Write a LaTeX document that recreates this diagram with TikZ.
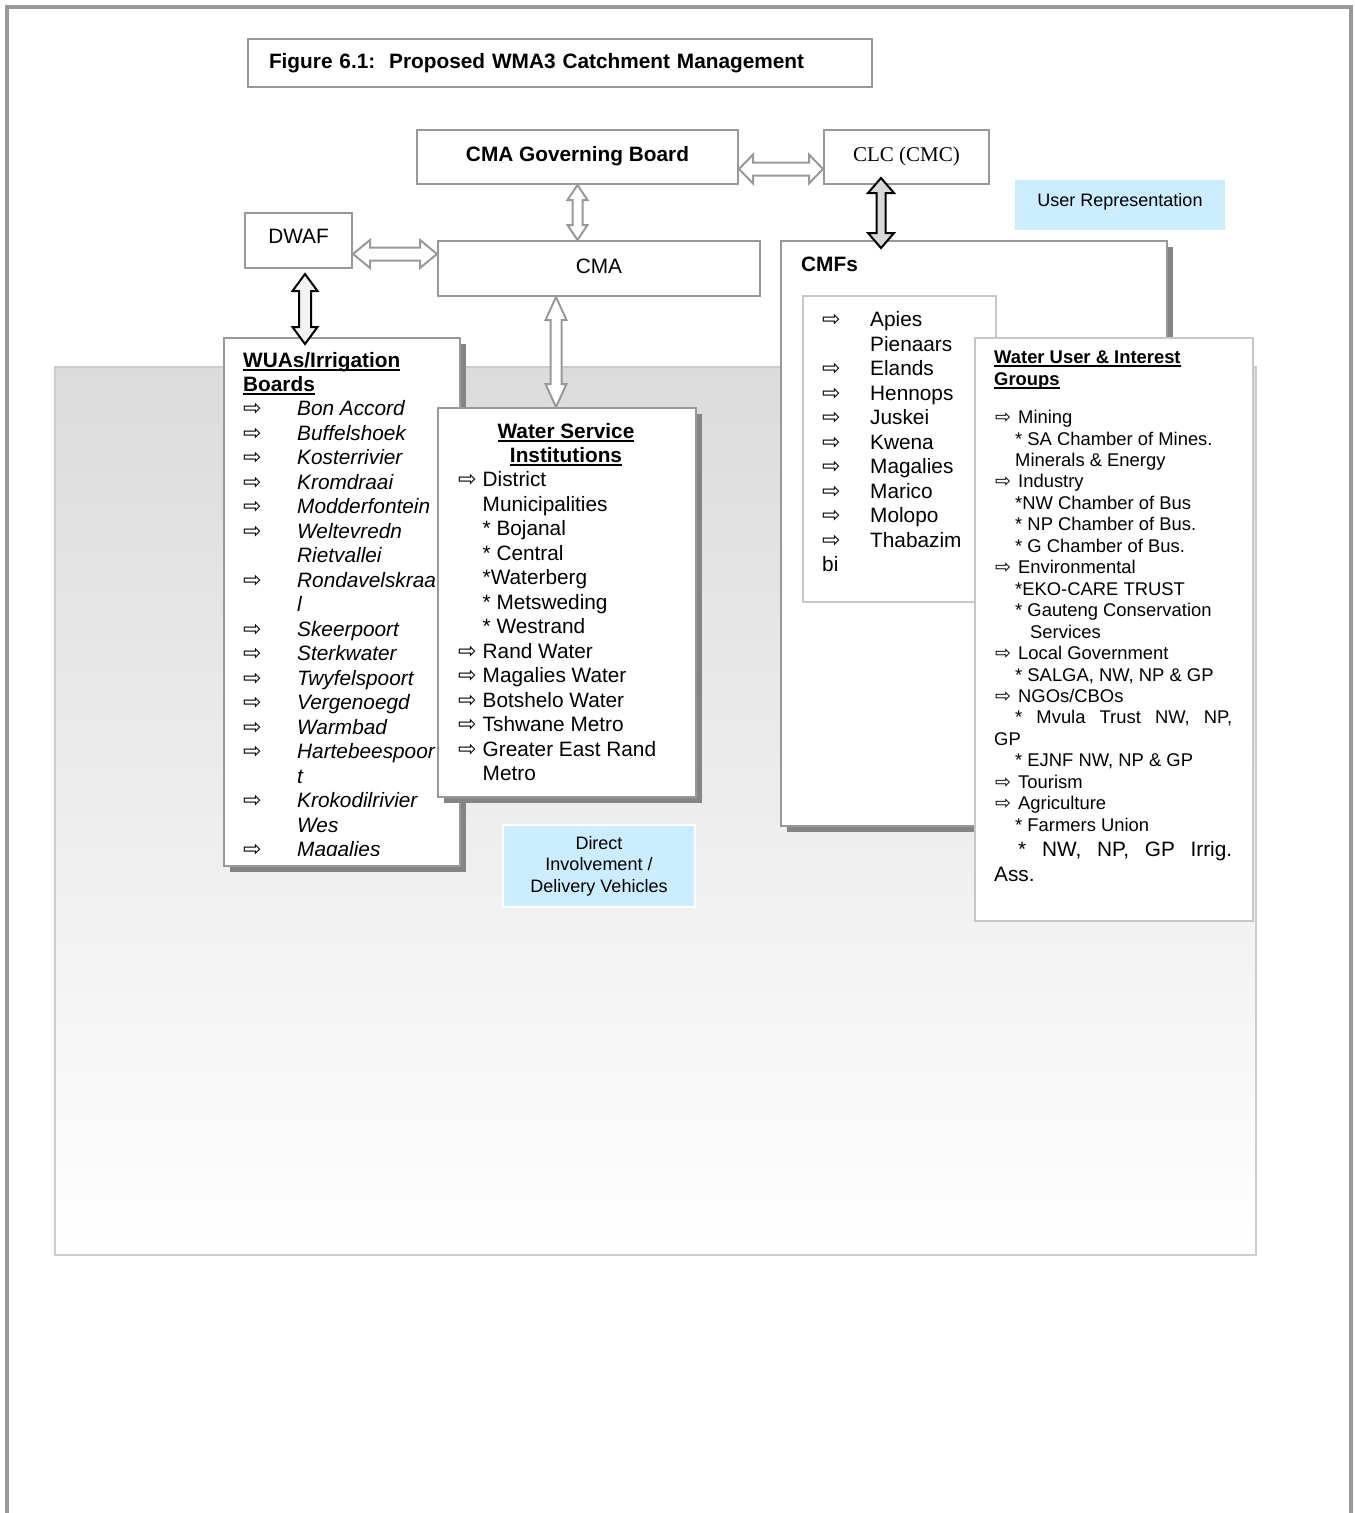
\documentclass[tikz,border=0pt]{standalone}
\usepackage{fontspec}
\setmainfont{Liberation Sans}
\newfontfamily\tnr{Liberation Serif}
\newfontfamily\symf{DejaVu Sans}
\usetikzlibrary{calc,shadows}
\definecolor{lightblu}{RGB}{204,236,255}
\newcommand\fmain{\fontsize{20.8}{24.5}\selectfont}
\newcommand\fsmall{\fontsize{18.4}{21.5}\selectfont}
\newcommand\fblue{\fontsize{18}{21.5}\selectfont}
\newcommand\fbul{\symf\fontsize{22}{22}\selectfont}
\newcommand\fbuls{\symf\fontsize{19}{19}\selectfont}
\newsavebox\ulbox
\newcommand\uln[1]{\sbox\ulbox{#1}\rlap{\rule[-3.5pt]{\wd\ulbox}{1.8pt}}\usebox\ulbox}
% block arrows: style, tip, tip, head half width, head length, shaft half width
\newcommand\varr[6]{%
  \draw[#1] (#2) -- ++(#4,#5) -- ++(#6-#4,0) -- ($(#3)+(#6,-#5)$) -- ++(#4-#6,0) -- (#3)
    -- ++(-#4,-#5) -- ++(#4-#6,0) -- ($(#2)+(-#6,#5)$) -- ++(#6-#4,0) -- cycle;}
\newcommand\harr[6]{%
  \draw[#1] (#2) -- ++(#5,-#4) -- ++(0,#4-#6) -- ($(#3)+(-#5,-#6)$) -- ++(0,#6-#4) -- (#3)
    -- ++(-#5,#4) -- ++(0,#6-#4) -- ($(#2)+(#5,#6)$) -- ++(0,#4-#6) -- cycle;}
\tikzset{
	box/.style={draw=black!40, line width=2pt, fill=white, inner sep=0pt, anchor=north west},
	lbox/.style={draw=black!22, line width=2pt, fill=white, inner sep=0pt, anchor=north west},
	shd/.style={drop shadow={shadow xshift=6pt,shadow yshift=-6pt,fill=black!48,opacity=1}},
	strutb/.style={text height=15pt, text depth=6pt},
	bluebox/.style={fill=lightblu, draw=white, line width=2pt, inner sep=0pt, anchor=north west, font=\fblue},
	txt/.style={anchor=base west, inner sep=0pt, font=\fmain},
	stxt/.style={anchor=base west, inner sep=0pt, font=\fsmall},
	bul/.style={anchor=base west, inner sep=0pt, font=\fbul},
	blk/.style={draw=black!40, fill=white, line width=2pt},
	blkdark/.style={draw=black, fill=#1, line width=2pt}
}
\begin{document}
\begin{tikzpicture}[x=1pt,y=-1pt]
\useasboundingbox (0,0) rectangle (1355,1513);
%%%% page frame and panel
\draw[black!40, line width=4pt] (7,1513) -- (7,7) -- (1351,7) -- (1351,1513);
\path[top color=black!14, bottom color=white, draw=black!20, line width=1.5pt] (55,367) rectangle (1256,1255);

%%%% title
\node[box, minimum width=624pt, minimum height=48pt, text width=582pt, align=left, inner xsep=21pt, font=\fmain\bfseries] (title) at (247,38) {Figure 6.1:\ \ Proposed WMA3 Catchment Management};

%%%% top boxes
\node[box, strutb, minimum width=321pt, minimum height=54pt, font=\fmain\bfseries] (gb) at (416,129) {CMA Governing Board};
\node[box, strutb, minimum width=165pt, minimum height=54pt, font=\tnr\fontsize{21}{24}\selectfont] (clc) at (823,129) {CLC (CMC)};
\node[box, text height=15pt, text depth=9pt, minimum width=107pt, minimum height=55pt, font=\fmain] (dwaf) at (244,212) {DWAF};
\node[box, strutb, minimum width=322pt, minimum height=55pt, font=\fmain] (cma) at (437,240) {CMA};
\node[bluebox, text height=13pt, text depth=10pt, minimum width=212pt, minimum height=52pt] (userrep) at (1013,178) {User Representation};

%%%% CMFs
\node[box, shd, minimum width=386pt, minimum height=585pt] (cmfs) at (780,240) {};
\node[txt, font=\fmain\bfseries] (cmfs-t) at (801,271.5) {CMFs};
\node[lbox, minimum width=193pt, minimum height=306pt] (cmfl) at (802,295) {};
\foreach \t [count=\i from 0] in {Apies,Pienaars,Elands,Hennops,Juskei,Kwena,Magalies,Marico,Molopo,Thabazim}
	\node[txt] (cmf-\i) at (870,326.5+24.5*\i) {\t};
\node[txt] (cmf-bi) at (822,571.5) {bi};
\foreach \i in {0,2,3,4,5,6,7,8,9}
	\node[bul] (cmfb-\i) at (822,326.5+24.5*\i) {⇨};

%%%% WUAs
\node[box, shd, minimum width=236pt, minimum height=528pt] (wua) at (223,337) {};
\node[txt, font=\fmain\bfseries] (wua-t1) at (243,367.5) {\uln{WUAs/Irrigation}};
\node[txt, font=\fmain\bfseries] (wua-t2) at (243,391.5) {\uln{Boards}};
\begin{scope}
	\clip (223,337) rectangle (459,855);
	\foreach \t [count=\i from 0] in {Bon Accord,Buffelshoek,Kosterrivier,Kromdraai,Modderfontein,Weltevredn,Rietvallei,Rondavelskraa,l,Skeerpoort,Sterkwater,Twyfelspoort,Vergenoegd,Warmbad,Hartebeespoor,t,Krokodilrivier,Wes,Magalies}
		\node[txt, font=\fmain\itshape] (wua-\i) at (297,415.5+24.5*\i) {\t};
	\foreach \i in {0,1,2,3,4,5,7,9,10,11,12,13,14,16,18}
		\node[bul] (wuab-\i) at (243,415.5+24.5*\i) {⇨};
\end{scope}

%%%% Water Service Institutions
\node[box, shd, minimum width=258pt, minimum height=389pt] (wsi) at (437,407) {};
\node[txt, anchor=base, font=\fmain\bfseries] (wsi-t1) at (566,438.5) {\uln{Water Service}};
\node[txt, anchor=base, font=\fmain\bfseries] (wsi-t2) at (566,462.5) {\uln{Institutions}};
\foreach \t [count=\i from 0] in {District,Municipalities,* Bojanal,* Central,*Waterberg,* Metsweding,* Westrand,Rand Water,Magalies Water,Botshelo Water,Tshwane Metro,Greater East Rand,Metro}
	\node[txt] (wsi-\i) at (482.5,486.5+24.5*\i) {\t};
\foreach \i in {0,7,8,9,10,11}
	\node[bul] (wsib-\i) at (458,486.5+24.5*\i) {⇨};

\node[bluebox, minimum width=192pt, minimum height=82pt, align=center] (direct) at (502,824) {Direct\\Involvement /\\Delivery Vehicles};

%%%% Water User & Interest Groups
\node[lbox, minimum width=278pt, minimum height=583pt] (wuig) at (974,337) {};
\node[stxt, font=\fsmall\bfseries] (wuig-t1) at (994,363.6) {\uln{Water User \& Interest}};
\node[stxt, font=\fsmall\bfseries] (wuig-t2) at (994,385.6) {\uln{Groups}};
\foreach \x/\t [count=\i from 0] in {1018/Mining, 1015/{* SA Chamber of Mines.}, 1015/{Minerals \& Energy}, 1018/Industry,
		1015/{*NW Chamber of Bus}, 1015/{* NP Chamber of Bus.}, 1015/{* G Chamber of Bus.}, 1018/Environmental,
		1015/{*EKO-CARE TRUST}, 1015/{* Gauteng Conservation}, 1030/Services, 1018/{Local Government},
		1015/{* SALGA, NW, NP \& GP}, 1018/{NGOs/CBOs}, 1015/{\makebox[217pt][s]{* Mvula Trust NW, NP,}}, 994/GP,
		1015/{* EJNF NW, NP \& GP}, 1018/Tourism, 1018/Agriculture, 1015/{* Farmers Union}}
	\node[stxt] (wuig-\i) at (\x,423.6+21.45*\i) {\t};
\node[txt] (wuig-20) at (1018,856.5) {\makebox[214pt][s]{* NW, NP, GP Irrig.}};
\node[txt] (wuig-21) at (994,881.5) {Ass.};
\foreach \i in {0,3,7,11,13,17,18}
	\node[bul, font=\fbuls] (wuigb-\i) at (995,423.6+21.45*\i) {⇨};

%%%% block arrows
\coordinate (a1s) at ($(gb.east)+(0,12)$);
\coordinate (a1e) at ($(clc.west)+(0,12)$);
\coordinate (a2e) at (gb.south |- cma.north);
\coordinate (a3s) at ($(dwaf.east)+(0,13.5)$);
\coordinate (a3e) at ($(cma.west)+(0,-14.5)$);
\coordinate (a4s) at ($(dwaf.south)+(6.5,5)$);
\coordinate (a4e) at ($(a4s |- wua.north)+(0,7)$);
\coordinate (a5s) at ($(cma.south)+(-43,0)$);
\coordinate (a5e) at ($(wsi.north)+(-11,0)$);
\coordinate (a6s) at ($(clc.south)+(-25.5,-7)$);
\coordinate (a6e) at ($(a6s |- cmfs.north)+(0,8)$);
\harr{blk}{a1s}{a1e}{14.5}{14}{6.5}
\varr{blk}{gb.south}{a2e}{10}{15}{5}
\harr{blk}{a3s}{a3e}{14}{17}{6.5}
\varr{blkdark=black!5}{a4s}{a4e}{12.5}{17}{6}
\varr{blk}{a5s}{a5e}{10.5}{23}{5.5}
\varr{blkdark=black!15}{a6s}{a6e}{13}{15}{4.5}
\end{tikzpicture}
\end{document}
